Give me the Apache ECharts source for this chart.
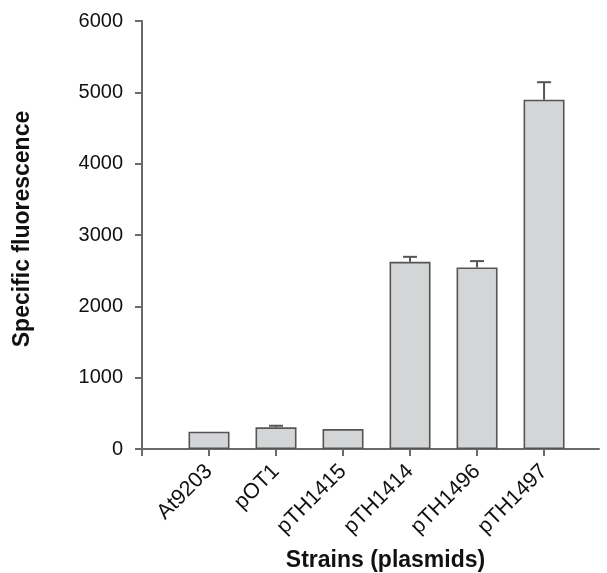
<!DOCTYPE html>
<html>
<head>
<meta charset="utf-8">
<script src="https://cdn.jsdelivr.net/npm/echarts@6/dist/echarts.min.js"></script>
<style>html,body{margin:0;padding:0;background:#fff;}#c{width:607px;height:573px;}</style>
</head>
<body>
<div id="c"></div>
<script>
var categories = ['At9203', 'pOT1', 'pTH1415', 'pTH1414', 'pTH1496', 'pTH1497'];
var means = [242, 304, 280, 2624, 2545, 4896];
var errUpper = [242, 326, 280, 2694, 2634, 5142];
var yTicks = [0, 1000, 2000, 3000, 4000, 5000, 6000];

var barData = categories.map(function (c, i) { return [i + 1, means[i]]; });
var errData = categories.map(function (c, i) { return [i + 1, means[i], errUpper[i]]; });

var axisColor = '#6a6a6a';
var chart = echarts.init(document.getElementById('c'), null, {renderer: 'canvas'});
chart.setOption({
  backgroundColor: '#ffffff',
  animation: false,
  textStyle: {fontFamily: 'Liberation Sans, Arial, sans-serif'},
  grid: {left: 142, right: 8, top: 21, bottom: 124, containLabel: false, outerBoundsMode: 'none'},
  xAxis: {
    type: 'value',
    min: 0,
    max: 6.82,
    name: 'Strains (plasmids)',
    nameLocation: 'middle',
    nameGap: 100,
    nameTextStyle: {fontSize: 23, fontWeight: 'bold', color: '#111', padding: [0, 0, 0, 30]},
    axisLine: {show: true, onZero: false, lineStyle: {color: axisColor, width: 2}},
    axisTick: {show: true, length: 7, customValues: [0, 1, 2, 3, 4, 5, 6], lineStyle: {color: axisColor, width: 2}},
    axisLabel: {
      customValues: [1, 2, 3, 4, 5, 6],
      rotate: 45,
      margin: 19,
      fontSize: 21.5,
      color: '#111',
      formatter: function (v) { return categories[Math.round(v) - 1] || ''; }
    },
    splitLine: {show: false}
  },
  yAxis: {
    type: 'value',
    min: yTicks[0],
    max: yTicks[yTicks.length - 1],
    interval: 1000,
    name: 'Specific fluorescence',
    nameLocation: 'middle',
    nameGap: 108,
    nameTextStyle: {fontSize: 23, fontWeight: 'bold', color: '#111', padding: [0, 0, 0, 12]},
    axisLine: {show: true, lineStyle: {color: axisColor, width: 2}},
    axisTick: {show: true, length: 7, lineStyle: {color: axisColor, width: 2}},
    axisLabel: {fontSize: 20, color: '#111', margin: 19, formatter: function (v) { return String(v); }},
    splitLine: {show: false}
  },
  series: [
    {
      type: 'bar',
      data: barData,
      barWidth: 41,
      itemStyle: {color: '#d4d5d7', borderColor: '#555555', borderWidth: 1.6},
      z: 2
    },
    {
      type: 'custom',
      data: errData,
      z: 3,
      renderItem: function (params, api) {
        var x = api.value(0);
        if (api.value(2) <= api.value(1)) { return null; }
        var top = api.coord([x, api.value(1)]);
        var up = api.coord([x, api.value(2)]);
        var half = 7;
        return {
          type: 'group',
          children: [
            {type: 'line', shape: {x1: top[0], y1: top[1], x2: up[0], y2: up[1]}, style: {stroke: '#555555', lineWidth: 2}},
            {type: 'line', shape: {x1: up[0] - half, y1: up[1], x2: up[0] + half, y2: up[1]}, style: {stroke: '#555555', lineWidth: 2}}
          ]
        };
      }
    }
  ]
});
</script>
</body>
</html>
